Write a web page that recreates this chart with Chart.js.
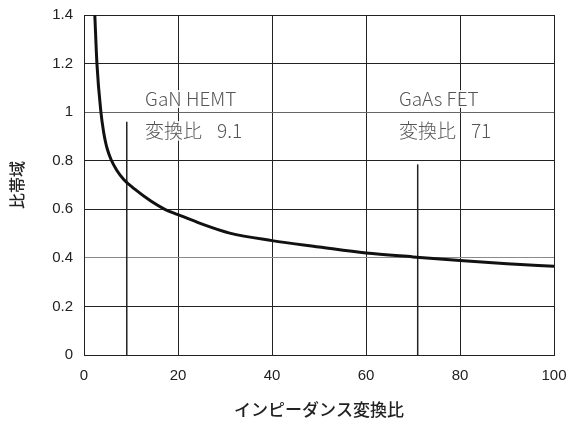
<!DOCTYPE html>
<html>
<head>
<meta charset="utf-8">
<script src="https://cdn.jsdelivr.net/npm/chart.js@4"></script>
<style>
  html, body { margin: 0; padding: 0; background: #fff; }
  #wrap { width: 573px; height: 421px; }
</style>
</head>
<body>
<div id="wrap"><canvas id="c" width="573" height="421"></canvas></div>
<script>
// Fractional bandwidth vs. impedance transformation ratio
const ratioX = [2.3, 2.75, 3.6, 4.2, 4.6, 5.0, 5.75, 7, 8.5, 10.8, 14.3, 17.2, 20, 25, 31, 40, 50, 60, 70, 80, 90, 100];
const bandwidthY = [1.4, 1.2, 1.0, 0.915, 0.875, 0.845, 0.805, 0.76, 0.722, 0.683, 0.633, 0.6, 0.578, 0.54, 0.502, 0.471, 0.445, 0.42, 0.404, 0.389, 0.376, 0.365];

const xTicks = [0, 20, 40, 60, 80, 100];
const yTicks = [0, 0.2, 0.4, 0.6, 0.8, 1.0, 1.2, 1.4];
const yTickLabels = ['0', '0.2', '0.4', '0.6', '0.8', '1', '1.2', '1.4'];

// Device markers: name, transformation ratio, height of the marker line
const deviceNames = ['GaN HEMT', 'GaAs FET'];
const deviceRatio = [9.1, 71];
const deviceRatioText = ['9.1', '71'];
const markerTop = [0.96, 0.785];
// Where each device caption sits (data units)
const captionX = [13, 67];
const captionNameY = 1.057;
const captionRatioY = 0.925;

const xTitle = 'インピーダンス変換比';
const yTitle = '比帯域';
const ratioWord = '変換比';

const curve = ratioX.map((x, i) => ({ x, y: bandwidthY[i] }));
const markerSets = deviceRatio.map((r, i) => ({
  data: [{ x: r, y: 0 }, { x: r, y: markerTop[i] }],
  borderColor: '#222',
  borderWidth: 1.5,
  pointRadius: 0,
  showLine: true,
  tension: 0
}));

const captions = {
  id: 'captions',
  afterDatasetsDraw(chart) {
    const { ctx, scales: { x, y } } = chart;
    ctx.save();
    ctx.font = '300 19px "Noto Sans CJK JP", "Noto Sans", sans-serif';
    ctx.textBaseline = 'middle';
    ctx.textAlign = 'left';
    ctx.lineJoin = 'round';
    const put = (t, px, py) => {
      ctx.strokeStyle = 'rgba(255,255,255,0.85)';
      ctx.lineWidth = 4;
      ctx.strokeText(t, px, py);
      ctx.fillStyle = '#555';
      ctx.fillText(t, px, py);
    };
    deviceNames.forEach((name, i) => {
      const px = x.getPixelForValue(captionX[i]);
      put(name, px, y.getPixelForValue(captionNameY));
      const ry = y.getPixelForValue(captionRatioY);
      put(ratioWord, px, ry);
      const w = ctx.measureText(ratioWord).width;
      put(deviceRatioText[i], px + w + 15, ry);
    });
    ctx.restore();
  }
};

const tickFont = { family: '"Liberation Sans", Arial, sans-serif', size: 15 };

new Chart(document.getElementById('c'), {
  type: 'scatter',
  data: {
    datasets: [
      {
        data: curve,
        borderColor: '#111',
        borderWidth: 3,
        pointRadius: 0,
        showLine: true,
        cubicInterpolationMode: 'monotone'
      },
      ...markerSets
    ]
  },
  options: {
    responsive: false,
    animation: false,
    events: [],
    layout: { padding: { top: 15, right: 19, left: 0, bottom: 0 } },
    plugins: { legend: { display: false }, tooltip: { enabled: false } },
    scales: {
      x: {
        type: 'linear',
        min: 0, max: 100,
        afterBuildTicks(s) { s.ticks = xTicks.map(v => ({ value: v })); },
        afterFit(s) {
          s.height = 66;
          s.paddingLeft = 0; s.paddingRight = 0;
        },
        ticks: {
          color: '#222',
          font: tickFont,
          padding: 12,
          callback: v => String(v)
        },
        grid: { color: '#222', lineWidth: 1, drawTicks: false },
        border: { color: '#222', width: 1 },
        title: {
          display: true,
          text: xTitle,
          color: '#222',
          font: { family: '"Noto Sans CJK JP", sans-serif', size: 17, weight: '500' },
          padding: { top: 0, bottom: 1 }
        }
      },
      y: {
        type: 'linear',
        min: 0, max: 1.4,
        afterBuildTicks(s) { s.ticks = yTicks.map(v => ({ value: v })); },
        afterFit(s) {
          s.width = 84;
          s.paddingTop = 0; s.paddingBottom = 0;
        },
        ticks: {
          color: '#222',
          font: tickFont,
          padding: 11,
          callback: (v) => {
            const k = yTicks.findIndex(t => Math.abs(t - v) < 1e-9);
            return k >= 0 ? yTickLabels[k] : '';
          }
        },
        grid: {
          lineWidth: 1,
          drawTicks: false,
          color: c => {
            const v = c.tick ? c.tick.value : null;
            if (v !== null && Math.abs(v - 0.4) < 1e-9) return '#8a8a8a';
            if (v !== null && Math.abs(v - 1.0) < 1e-9) return '#666';
            return '#222';
          }
        },
        border: { color: '#222', width: 1 },
        title: {
          display: true,
          text: yTitle,
          color: '#222',
          font: { family: '"Noto Sans CJK JP", sans-serif', size: 16, weight: '500' },
          padding: { top: 7, bottom: 0 }
        }
      }
    }
  },
  plugins: [captions]
});
</script>
</body>
</html>
